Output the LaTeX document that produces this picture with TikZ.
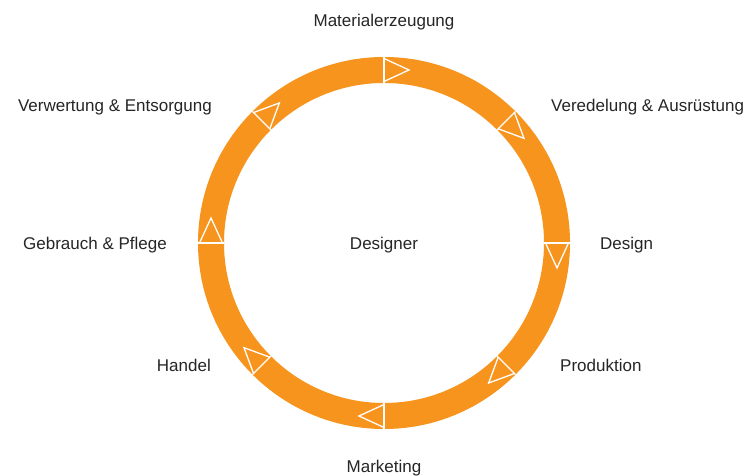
\documentclass[tikz,border=0pt]{standalone}
\usepackage{fontspec}
\setmainfont{Liberation Sans}
\usetikzlibrary{calc}
\definecolor{ringorange}{HTML}{F7941D}
\definecolor{labelgray}{HTML}{262626}
\begin{document}
\begin{tikzpicture}[x=1pt,y=1pt,
  lbl/.style={inner sep=0pt, text=labelgray, font=\fontsize{17}{20}\selectfont},
  marker/.style={draw=white, line width=1.3pt, line join=miter}]
  % canvas
  \fill[white] (0,0) rectangle (749,476);
  \useasboundingbox (0,0) rectangle (749,476);
  \coordinate (C) at (384,233);
  % the cycle ring
  \fill[ringorange, even odd rule] (C) circle[radius=186pt] (C) circle[radius=160pt];
  % clockwise direction markers
  \foreach \a in {90,45,0,-45,-90,-135,180,135}{
    \begin{scope}[shift={(C)}, rotate=\a]
      \draw[marker] (160,0) -- (186,0);
      \draw[marker] (161.5,0) -- (173,-25) -- (184.5,0);
    \end{scope}
  }
  % stage labels
  \node[lbl] (mat) at (384,454) {Materialerzeugung};
  \node[lbl, anchor=west] (ver) at (551,369) {Veredelung \& Ausrüstung};
  \node[lbl, anchor=west] (des) at (600,231) {Design};
  \node[lbl, anchor=west] (pro) at (560,111) {Produktion};
  \node[lbl] (mar) at (384,8) {Marketing};
  \node[lbl, anchor=east] (han) at (211,111) {Handel};
  \node[lbl, anchor=east] (geb) at (167,231) {Gebrauch \& Pflege};
  \node[lbl, anchor=east] (ent) at (212,369) {Verwertung \& Entsorgung};
  \node[lbl] (dsg) at (384,231) {Designer};
\end{tikzpicture}
\end{document}
